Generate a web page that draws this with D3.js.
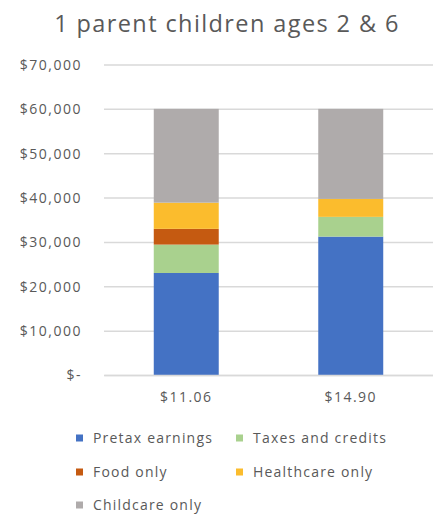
<!DOCTYPE html>
<html><head><meta charset="utf-8">
<script src="https://cdn.jsdelivr.net/npm/d3@7"></script>
<style>body{margin:0;background:#fff}svg{display:block}text{font-family:"Open Sans",sans-serif;fill:#595959}</style>
</head><body><svg id="c" width="433" height="514"></svg>
<script>
const categories = ["$11.06", "$14.90"];
const seriesNames = ["Pretax earnings", "Taxes and credits", "Food only", "Healthcare only", "Childcare only"];
const pretax = [23000, 31200];
const taxes = [6400, 4450];
const food = [3550, 0];
const healthcare = [5900, 4050];
const childcare = [21150, 20300];
const colors = ["#4472C4", "#A9D18E", "#C55A11", "#FBBC2D", "#AFABAB"];
const yTicks = [0, 10000, 20000, 30000, 40000, 50000, 60000, 70000];

const svg = d3.select("#c");
const rows = categories.map((c, i) => ({cat: c, s0: pretax[i], s1: taxes[i], s2: food[i], s3: healthcare[i], s4: childcare[i]}));
const stack = d3.stack().keys(["s0","s1","s2","s3","s4"])(rows);

const x = d3.scaleBand().domain(categories).range([104, 433]).paddingInner(0.605).paddingOuter(0.3025);
const y = d3.scaleLinear().domain([0, 70000]).range([375, 64.5]);

svg.append("text").attr("x", 227).attr("y", 32).attr("text-anchor", "middle")
  .style("font-size", "23.5px").style("letter-spacing", "1.4px").text("1 parent children ages 2 & 6");

const fmt = v => v === 0 ? "$-" : "$" + d3.format(",")(v);
const ga = svg.append("g").attr("transform", "translate(104,0)")
  .call(d3.axisLeft(y).tickValues(yTicks).tickSize(-329).tickFormat(fmt).tickPadding(22));
ga.select(".domain").remove();
ga.selectAll(".tick line").attr("stroke", "#d9d9d9").attr("stroke-width", 1.5);
ga.selectAll(".tick text").style("font-size", "14px").style("letter-spacing", "1.5px").style("font-family", "Open Sans, sans-serif").attr("fill", "#595959").attr("dy", "0.35em");

svg.append("g").selectAll("g").data(stack).join("g").attr("fill", (d, i) => colors[i])
  .selectAll("rect").data(d => d).join("rect")
  .attr("x", d => x(d.data.cat)).attr("width", x.bandwidth())
  .attr("y", d => y(d[1])).attr("height", d => y(d[0]) - y(d[1]));

const gx = svg.append("g").attr("transform", "translate(0,375)")
  .call(d3.axisBottom(x).tickSize(0).tickPadding(17));
gx.select(".domain").attr("stroke", "#d9d9d9").attr("stroke-width", 1.5);
gx.selectAll(".tick text").style("font-size", "14px").style("letter-spacing", "1.5px").style("font-family", "Open Sans, sans-serif").attr("fill", "#595959");

const legendPos = [[76, 438], [236, 438], [76, 472], [236, 472], [76, 505]];
const lg = svg.append("g").selectAll("g").data(seriesNames).join("g")
  .attr("transform", (d, i) => `translate(${legendPos[i][0]},${legendPos[i][1]})`);
lg.append("rect").attr("x", 0).attr("y", -3.5).attr("width", 7).attr("height", 7).attr("fill", (d, i) => colors[i]);
lg.append("text").attr("x", 17).attr("dy", "0.35em").style("font-size", "14px").style("letter-spacing", "1.2px").text(d => d);
</script></body></html>
